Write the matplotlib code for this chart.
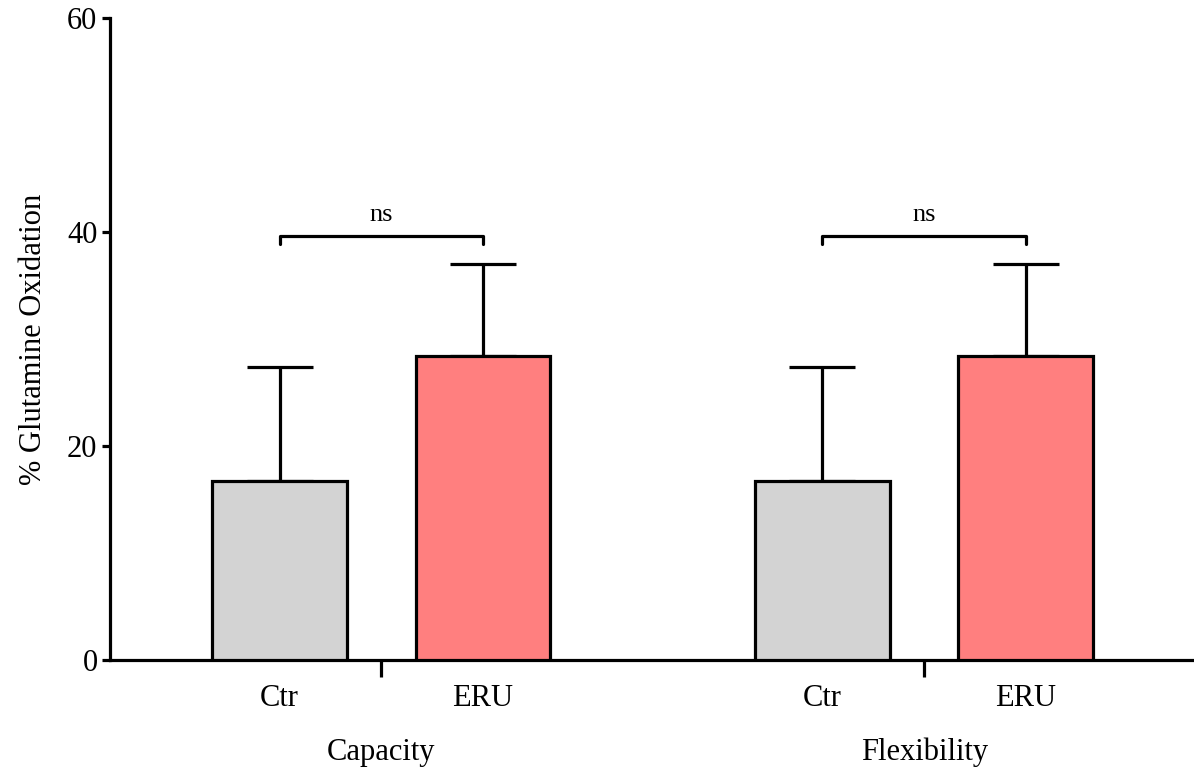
import matplotlib
matplotlib.use("Agg")
import matplotlib.pyplot as plt

groups = ["Capacity", "Flexibility"]
conditions = ["Ctr", "ERU"]
means = [16.7, 28.4, 16.7, 28.4]
errs = [10.7, 8.6, 10.7, 8.6]
colors = ["#d3d3d3", "#ff7f7f", "#d3d3d3", "#ff7f7f"]
sig_labels = ["ns", "ns"]

plt.rcParams["font.family"] = ["Liberation Serif", "DejaVu Serif"]
LW = 2.3

fig = plt.figure(figsize=(11.94, 7.70), dpi=100)
ax = fig.add_axes([110 / 1194, 110 / 770, 1 - 110 / 1194, 642 / 770])

gap = 2.668
pos = [0, 1, gap, gap + 1]
ax.bar(pos, means, width=0.663, color=colors, edgecolor="black", linewidth=LW, zorder=3)
ax.errorbar(pos, means, yerr=[[0] * 4, errs], fmt="none", ecolor="black",
            elinewidth=LW, capsize=24, capthick=LW, zorder=2)

for g in range(2):
    x0, x1 = pos[2 * g], pos[2 * g + 1]
    ax.plot([x0, x0, x1, x1], [38.9, 39.6, 39.6, 38.9], color="black", lw=LW,
            solid_capstyle="round", solid_joinstyle="round", zorder=4)
    ax.text((x0 + x1) / 2, 40.6, sig_labels[g], ha="center", va="bottom", fontsize=19)
    for i, c in enumerate(conditions):
        ax.text(pos[2 * g + i], -3.6, c, ha="center", va="center", fontsize=22)
    ax.text((x0 + x1) / 2, -8.6, groups[g], ha="center", va="center", fontsize=22)

ax.set_xlim(-0.833, 4.494)
ax.set_ylim(0, 60)
ax.set_xticks([0.5, gap + 0.5])
ax.set_xticklabels([])
ax.set_yticks([0, 20, 40, 60])
ax.tick_params(axis="y", length=6, width=LW, labelsize=22, pad=3)
ax.tick_params(axis="x", length=12, width=LW)
for s in ["top", "right"]:
    ax.spines[s].set_visible(False)
for s in ["left", "bottom"]:
    ax.spines[s].set_linewidth(LW)
ax.set_ylabel("% Glutamine Oxidation", fontsize=22, labelpad=14)

fig.savefig("out.png", dpi=100)
